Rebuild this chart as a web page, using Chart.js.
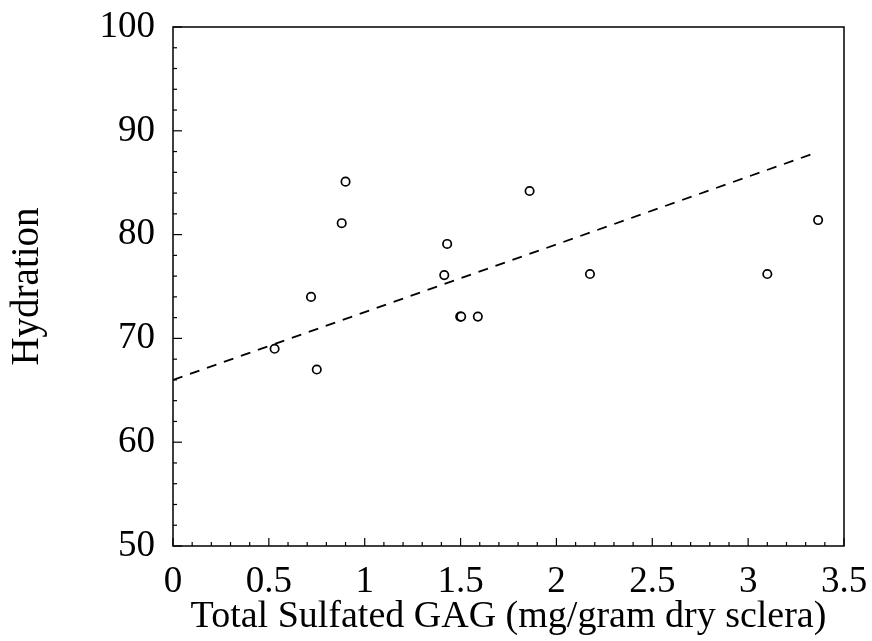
<!DOCTYPE html>
<html>
<head>
    <meta charset="utf-8">
    <title>Hydration vs Total Sulfated GAG</title>
    <script src="https://cdn.jsdelivr.net/npm/chart.js@4.4.0/dist/chart.umd.min.js"></script>
    <style>
        body { margin: 0; background: #fff; }
    </style>
</head>
<body>

<canvas id="myChart" width="872" height="641"></canvas>

<script>
    // measured samples (mg/gram dry sclera vs hydration)
    const gagValues = [0.53, 0.72, 0.75, 0.88, 0.90, 1.415, 1.43, 1.498, 1.503, 1.59, 1.86, 2.175, 3.10, 3.365];
    const hydrationValues = [69.0, 74.0, 67.0, 81.1, 85.1, 76.1, 79.1, 72.1, 72.1, 72.1, 84.2, 76.2, 76.2, 81.4];

    // regression line end points
    const fitX = [0, 3.34];
    const fitY = [66.0, 87.8];

    const xTitle = "Total Sulfated GAG (mg/gram dry sclera)";
    const yTitle = "Hydration";

    const serif = "'Liberation Serif', 'DejaVu Serif', serif";

    // inward ticks + top/right frame lines
    const frameTicks = {
        id: 'frameTicks',
        afterDraw(chart) {
            const ctx = chart.ctx;
            const a = chart.chartArea;
            const xs = chart.scales.x;
            const ys = chart.scales.y;
            ctx.save();
            ctx.strokeStyle = '#000';
            ctx.lineWidth = 1.5;
            ctx.strokeRect(a.left, a.top, a.right - a.left, a.bottom - a.top);
            ctx.lineWidth = 1.2;
            for (let i = 0; i <= 35; i++) {
                let v = i / 10;
                let px = xs.getPixelForValue(v);
                let len = (i % 5 === 0) ? 8 : 4;
                ctx.beginPath();
                ctx.moveTo(px, a.bottom);
                ctx.lineTo(px, a.bottom - len);
                ctx.stroke();
            }
            for (let v = 50; v <= 100; v += 2) {
                let py = ys.getPixelForValue(v);
                let len = (v % 10 === 0) ? 9 : 4;
                ctx.beginPath();
                ctx.moveTo(a.left, py);
                ctx.lineTo(a.left + len, py);
                ctx.stroke();
            }
            ctx.restore();
        }
    };

    var ctx = document.getElementById('myChart').getContext('2d');
    var myChart = new Chart(ctx, {
        type: 'scatter',
        data: {
            datasets: [{
                label: 'samples',
                data: gagValues.map((x, i) => ({x: x, y: hydrationValues[i]})),
                pointRadius: 4.2,
                pointBorderWidth: 1.7,
                pointBorderColor: '#000',
                pointBackgroundColor: '#fff',
                showLine: false
            }, {
                label: 'fit',
                type: 'line',
                data: fitX.map((x, i) => ({x: x, y: fitY[i]})),
                borderColor: '#000',
                borderWidth: 1.8,
                borderDash: [10, 8],
                pointRadius: 0,
                fill: false
            }]
        },
        options: {
            responsive: false,
            animation: false,
            events: [],
            layout: { padding: { top: 27, right: 28, left: 0, bottom: 0 } },
            plugins: {
                legend: { display: false },
                tooltip: { enabled: false }
            },
            scales: {
                x: {
                    type: 'linear',
                    min: 0,
                    max: 3.5,
                    grid: { display: false, drawTicks: false },
                    border: { display: false },
                    ticks: {
                        stepSize: 0.5,
                        color: '#000',
                        padding: 14,
                        font: { family: serif, size: 37 },
                        callback: v => String(v)
                    },
                    title: {
                        display: true,
                        text: xTitle,
                        color: '#000',
                        padding: { top: 0, bottom: 1 },
                        font: { family: serif, size: 38 }
                    },
                    afterFit(scale) {
                        scale.height = 95;
                        scale.paddingLeft = 0;
                        scale.paddingRight = 0;
                    }
                },
                y: {
                    min: 50,
                    max: 100,
                    grid: { display: false, drawTicks: false },
                    border: { display: false },
                    ticks: {
                        stepSize: 10,
                        color: '#000',
                        padding: 18,
                        font: { family: serif, size: 37 }
                    },
                    title: {
                        display: true,
                        text: yTitle,
                        color: '#000',
                        padding: { top: 4, bottom: 0 },
                        font: { family: serif, size: 39 }
                    },
                    afterFit(scale) {
                        scale.width = 173;
                        scale.paddingTop = 0;
                        scale.paddingBottom = 0;
                    }
                }
            }
        },
        plugins: [frameTicks]
    });
</script>

</body>
</html>
